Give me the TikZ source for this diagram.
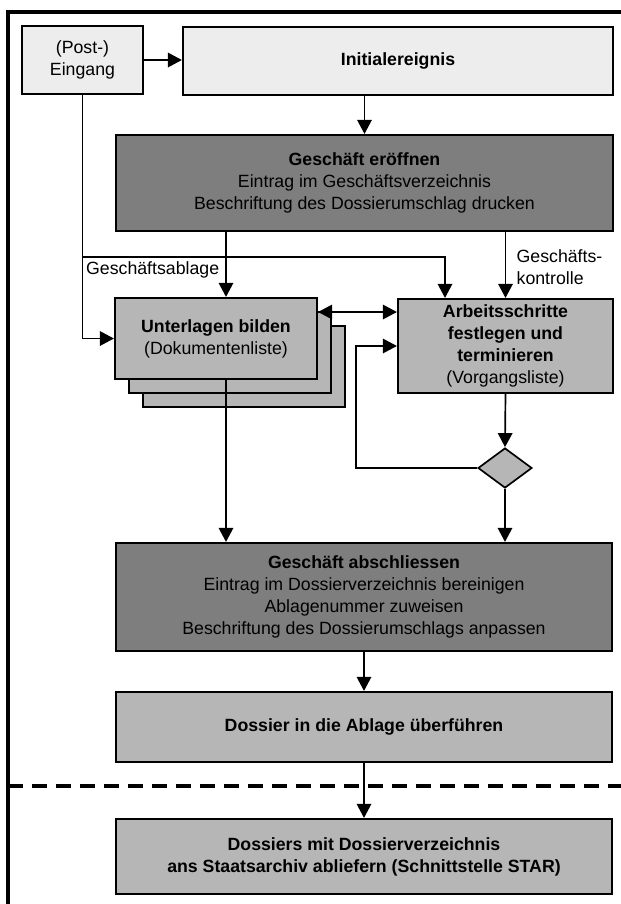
\documentclass[tikz,border=0pt]{standalone}
\usepackage{fontspec}
\setmainfont{Liberation Sans}
\usetikzlibrary{arrows.meta,positioning,shapes.geometric}
\definecolor{lbg}{RGB}{237,237,237}
\definecolor{mbg}{RGB}{182,182,182}
\definecolor{dbg}{RGB}{126,126,126}
\tikzset{
  box/.style={draw=black, line width=1.5pt, align=center, inner sep=2pt,
    font=\fontsize{12.6}{15.6}\selectfont},
  lightbox/.style={box, fill=lbg},
  midbox/.style={box, fill=mbg},
  darkbox/.style={box, fill=dbg},
  arr/.style={line width=1.2pt, -{Triangle[length=3.5mm,width=3.6mm]}},
  arrboth/.style={line width=1.2pt, {Triangle[length=3.5mm,width=3.6mm]}-{Triangle[length=3.5mm,width=3.6mm]}},
  lbl/.style={font=\fontsize{12.6}{15.6}\selectfont, align=left, inner sep=1pt}
}

\begin{document}
\begin{tikzpicture}[x=0.25mm,y=-0.25mm]
\useasboundingbox (0,0) rectangle (621,904);
% frame
\draw[line width=2.6pt] (8,904) -- (8,12) -- (621,12);
\draw[line width=2.4pt, dash pattern=on 3.75mm off 2.25mm] (8,786) -- (621,786);

\node[lightbox, minimum width=30.25mm, minimum height=17mm] (post) at (82.5,60) {(Post-)\\Eingang};
\node[lightbox, minimum width=107.5mm, minimum height=17mm] (initial) at (398,61) {\bfseries Initialereignis};
\node[darkbox, minimum width=124.25mm, minimum height=24mm] (open) at (364.5,183)
  {{\bfseries Geschäft eröffnen}\\Eintrag im Geschäftsverzeichnis\\Beschriftung des Dossierumschlag drucken};

% stack of lists
\foreach \i in {2,1}{
\node[midbox, minimum width=50.5mm, minimum height=20.25mm] (docs\i) at (216+14*\i,338.5+14*\i) {};
}
\node[midbox, minimum width=50.5mm, minimum height=20.25mm] (docs) at (216,338.5)
  {{\bfseries Unterlagen bilden}\\(Dokumentenliste)};
\node[midbox, minimum width=53.75mm, minimum height=23.5mm] (steps) at (505.5,346)
  {{\bfseries Arbeitsschritte}\\{\bfseries festlegen und}\\{\bfseries terminieren}\\(Vorgangsliste)};
\node[diamond, draw=black, line width=1.2pt, fill=mbg, inner sep=0pt, minimum width=13.5mm, minimum height=10mm] (check) at (505,468) {};

\node[darkbox, minimum width=124mm, minimum height=27mm] (close) at (364,597)
  {{\bfseries Geschäft abschliessen}\\Eintrag im Dossierverzeichnis bereinigen\\Ablagenummer zuweisen\\Beschriftung des Dossierumschlags anpassen};
\node[midbox, minimum width=124mm, minimum height=17.5mm] (archive) at (364,727) {\bfseries Dossier in die Ablage überführen};
\node[midbox, minimum width=124mm, minimum height=18.75mm] (star) at (364,856.5)
  {\bfseries Dossiers mit Dossierverzeichnis\\\bfseries ans Staatsarchiv abliefern (Schnittstelle STAR)};

\coordinate (lx) at (226,0);
\coordinate (fork) at (82.5,257);
\coordinate (ablage) at (445,0);
\coordinate (pair) at (0,312);

\draw[arr] (post.east) -- (post.east -| initial.west);
\draw[arr] (initial.south -| open.north) -- (open.north);
\draw[arr] (open.south -| lx) -- (docs.north -| lx);
\draw[arr] (open.south -| steps.north) -- (steps.north);
\draw[arr] (post.south) |- (docs.west);
\draw[arr] (fork) -| (steps.north -| ablage);
\node[lbl, anchor=north west] (ablagetxt) at ([xshift=0.5mm,yshift=-0.8mm]fork) {Geschäftsablage};
\node[lbl, anchor=west] (kontrolle) at (515,267) {Geschäfts-\\kontrolle};
\draw[arrboth] (docs.east |- pair) -- (steps.west |- pair);
\draw[arr] (steps.south) -- (check.north);
\draw[arr] (check.west) -| ([xshift=-10.25mm]steps.west) -- (steps.west);
\draw[arr] (check.south) -- (check.south |- close.north);
\draw[arr] (docs.south -| lx) -- (close.north -| lx);
\draw[arr] (close.south) -- (archive.north);
\draw[arr] (archive.south) -- (star.north);
\end{tikzpicture}
\end{document}
